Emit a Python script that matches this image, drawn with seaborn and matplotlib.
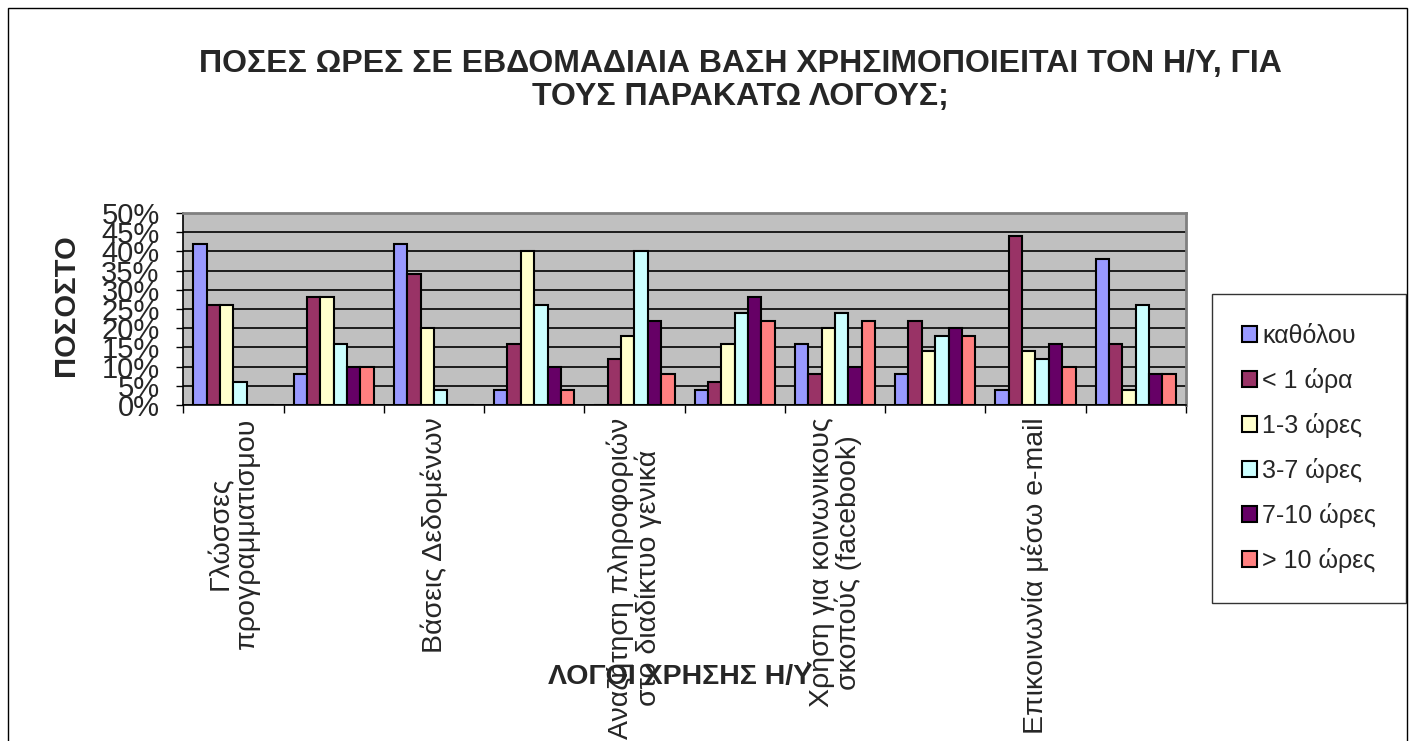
import numpy as np
import pandas as pd
import seaborn as sns
import matplotlib.pyplot as plt
from matplotlib.patches import Rectangle

# --- data (percent) ---
CATEGORIES = [
    'Γλώσσες\nπρογραμματισμου', ' ',
    'Βάσεις Δεδομένων', '  ',
    'Αναζήτηση πληροφοριών\nστο διαδίκτυο γενικά', '   ',
    'Χρήση για κοινωνικους\nσκοπούς (facebook)', '    ',
    'Επικοινωνία μέσω e-mail', '     ',
]
SERIES = ['καθόλου', '< 1 ώρα', '1-3 ώρες', '3-7 ώρες', '7-10 ώρες', '> 10 ώρες']
KATHOLOU = [42, 8, 42, 4, 0, 4, 16, 8, 4, 38]
LT_1 = [26, 28, 34, 16, 12, 6, 8, 22, 44, 16]
H_1_3 = [26, 28, 20, 40, 18, 16, 20, 14, 14, 4]
H_3_7 = [6, 16, 4, 26, 40, 24, 24, 18, 12, 26]
H_7_10 = [0, 10, 0, 10, 22, 28, 10, 20, 16, 8]
GT_10 = [0, 10, 0, 4, 8, 22, 22, 18, 10, 8]
COLORS = ['#9999FF', '#993366', '#FFFFCC', '#CCFFFF', '#660066', '#FF8080']

TITLE = 'ΠΟΣΕΣ ΩΡΕΣ ΣΕ ΕΒΔΟΜΑΔΙΑΙΑ ΒΑΣΗ ΧΡΗΣΙΜΟΠΟΙΕΙΤΑΙ ΤΟΝ Η/Υ, ΓΙΑ\nΤΟΥΣ ΠΑΡΑΚΑΤΩ ΛΟΓΟΥΣ;'

values = [KATHOLOU, LT_1, H_1_3, H_3_7, H_7_10, GT_10]
df = pd.DataFrame({
    'cat': np.tile(CATEGORIES, len(SERIES)),
    'series': np.repeat(SERIES, len(CATEGORIES)),
    'value': np.concatenate(values),
})

sns.set_style('white')
plt.rcParams['font.family'] = ['Liberation Sans', 'DejaVu Sans']

fig = plt.figure(figsize=(14.1, 7.41), dpi=100)
ax = fig.add_axes([0.130, 0.4534, 0.711, 0.2592])
ax.set_facecolor('#C0C0C0')

sns.barplot(data=df, x='cat', y='value', hue='series', order=CATEGORIES,
            hue_order=SERIES, palette=COLORS, edgecolor='black', linewidth=1.5,
            saturation=1, width=0.8, ax=ax, zorder=3)

ax.set_ylim(0, 50)
ax.set_xlim(-0.5, len(CATEGORIES) - 0.5)
ax.set_yticks(range(0, 51, 5))
ax.set_yticklabels([f'{v}%' for v in range(0, 51, 5)], fontsize=21)
ax.yaxis.grid(True, color='black', linewidth=1.2, zorder=0)
ax.set_axisbelow(True)

ax.set_xticks(range(len(CATEGORIES)))
ax.set_xticklabels(CATEGORIES, rotation=90, fontsize=20.5, va='top',
                   ha='center', multialignment='center', linespacing=1.0)
ax.set_xticks(np.arange(-0.5, len(CATEGORIES), 1), minor=True)
ax.tick_params(axis='x', which='major', length=0, pad=9)
ax.tick_params(axis='x', which='minor', length=6, width=1, color='black',
               direction='out', bottom=True)
ax.tick_params(axis='y', length=5, width=1, color='black', direction='out',
               left=True, pad=12)

for side in ['left', 'bottom']:
    ax.spines[side].set_color('black')
    ax.spines[side].set_linewidth(1.2)
for side in ['top', 'right']:
    ax.spines[side].set_color('#808080')
    ax.spines[side].set_linewidth(2)

ax.set_xlabel('')
ax.set_ylabel('')
fig.text(0.482, 0.087, 'ΛΟΓΟΙ ΧΡΗΣΗΣ Η/Υ', fontsize=20.5, fontweight='bold',
         ha='center', va='center')
fig.text(0.047, 0.588, 'ΠΟΣΟΣΤΟ', fontsize=21, fontweight='bold',
         rotation=90, ha='center', va='center')
fig.text(0.525, 0.891, TITLE, fontsize=23, fontweight='bold',
         ha='center', va='center', linespacing=1.15)

ax.legend_.remove()
handles, labels = ax.get_legend_handles_labels()
leg = fig.legend(handles[:len(SERIES)], SERIES, loc='center left',
                 bbox_to_anchor=(0.8595, 0.3945), fontsize=18, frameon=True,
                 fancybox=False, edgecolor='black', labelspacing=0.8,
                 handlelength=0.6, handleheight=0.6, handletextpad=0.2,
                 borderpad=1.2, borderaxespad=0)
leg.get_frame().set_linewidth(1)

fig.patches.append(Rectangle((0.006, -0.01), 0.992, 0.999, transform=fig.transFigure,
                             fill=False, edgecolor='black', linewidth=1))

fig.savefig('out.png', dpi=100)
plt.close(fig)
